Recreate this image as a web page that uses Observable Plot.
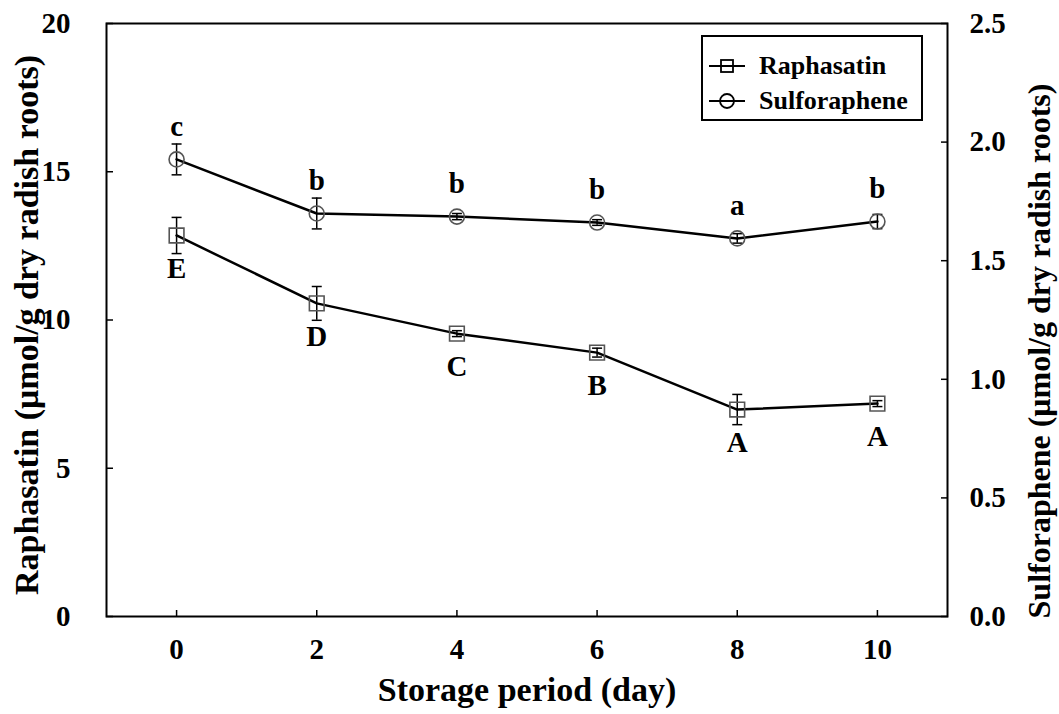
<!DOCTYPE html>
<html>
<head>
<meta charset="utf-8">
<script src="https://cdn.jsdelivr.net/npm/d3@7"></script>
<script src="https://cdn.jsdelivr.net/npm/@observablehq/plot@0.6"></script>
<style>
  body { margin: 0; background: #fff; }
  #wrap { position: relative; width: 1059px; height: 714px; background: #fff; }
  #legend { position: absolute; left: 701px; top: 35px; width: 222px; height: 86px; border: 2px solid #000; box-sizing: border-box; background: #fff;
    font-family: "Liberation Serif", serif; font-weight: bold; font-size: 26px; color: #000; }
  .row { position: absolute; left: 0; height: 30px; display: flex; align-items: center; }
  .row svg { margin-left: 6px; margin-right: 12px; }
</style>
</head>
<body>
<div id="wrap">
  <div id="chart"></div>
  <div id="legend"></div>
</div>
<script>
// ---- data ----
const days = [0, 2, 4, 6, 8, 10];
const raphasatin = [12.85, 10.56, 9.54, 8.90, 6.98, 7.18];
const raphasatinErr = [0.61, 0.57, 0.10, 0.15, 0.51, 0.10];
const raphasatinLetters = ["E", "D", "C", "B", "A", "A"];
const sulforaphene = [1.927, 1.699, 1.686, 1.661, 1.594, 1.665];
const sulforapheneErr = [0.065, 0.065, 0.013, 0.012, 0.020, 0.030];
const sulforapheneLetters = ["c", "b", "b", "b", "a", "b"];
const leftTicks = [0, 5, 10, 15, 20];
const rightTicks = [0.0, 0.5, 1.0, 1.5, 2.0, 2.5];
const seriesNames = ["Raphasatin", "Sulforaphene"];
const ratio = 8; // right axis (0–2.5) mapped onto left axis (0–20)

const rows = days.map((d, i) => ({
  day: d,
  r: raphasatin[i], rLo: raphasatin[i] - raphasatinErr[i], rHi: raphasatin[i] + raphasatinErr[i], rL: raphasatinLetters[i],
  s: sulforaphene[i] * ratio, sLo: (sulforaphene[i] - sulforapheneErr[i]) * ratio, sHi: (sulforaphene[i] + sulforapheneErr[i]) * ratio, sL: sulforapheneLetters[i]
}));

const capSymbol = { draw(ctx, size) { const w = Math.sqrt(size / Math.PI); ctx.moveTo(-w, 0); ctx.lineTo(w, 0); } };
const font = "Liberation Serif";
const markerStroke = "#555";

const chart = Plot.plot({
  width: 1059, height: 714,
  marginLeft: 106, marginRight: 112, marginTop: 23, marginBottom: 98,
  x: { domain: [-1, 11] },
  y: { domain: [0, 20] },
  style: { fontFamily: font, fontWeight: "bold", fontSize: "29px", color: "#000", background: "#fff" },
  marks: [
    Plot.frame({ stroke: "#000", strokeWidth: 2 }),
    Plot.axisX({ ticks: days, tickSize: -6, tickPadding: 28, label: null, fontSize: 29, fontWeight: "bold", strokeWidth: 1.5 }),
    Plot.axisY({ ticks: leftTicks, tickSize: -7, tickPadding: 43, label: null, fontSize: 29, fontWeight: "bold", strokeWidth: 1.5 }),
    Plot.axisY({ anchor: "right", ticks: rightTicks.map(t => t * ratio), tickFormat: d => (d / ratio).toFixed(1), tickSize: -7, tickPadding: 29, label: null, fontSize: 29, fontWeight: "bold", strokeWidth: 1.5 }),
    Plot.text(["Storage period (day)"], { frameAnchor: "bottom", dy: 74, lineAnchor: "middle", textAnchor: "middle", fontSize: 34, fontWeight: "bold", fill: "#000" }),
    Plot.text(["Raphasatin (\u03bcmol/g dry radish roots)"], { frameAnchor: "left", dx: -79, dy: 5, rotate: -90, textAnchor: "middle", lineAnchor: "middle", fontSize: 34, fontWeight: "bold", fill: "#000" }),
    Plot.text(["Sulforaphene (\u03bcmol/g dry radish roots)"], { frameAnchor: "right", dx: 92, dy: 31, rotate: -90, textAnchor: "middle", lineAnchor: "middle", fontSize: 32, fontWeight: "bold", fill: "#000" }),
    // error bars
    Plot.ruleX(rows, { x: "day", y1: "rLo", y2: "rHi", stroke: "#000", strokeWidth: 1.5 }),
    Plot.dot(rows, { x: "day", y: "rLo", symbol: capSymbol, r: 5, stroke: "#000", strokeWidth: 1.5, fill: "none" }),
    Plot.dot(rows, { x: "day", y: "rHi", symbol: capSymbol, r: 5, stroke: "#000", strokeWidth: 1.5, fill: "none" }),
    Plot.ruleX(rows, { x: "day", y1: "sLo", y2: "sHi", stroke: "#000", strokeWidth: 1.5 }),
    Plot.dot(rows, { x: "day", y: "sLo", symbol: capSymbol, r: 5, stroke: "#000", strokeWidth: 1.5, fill: "none" }),
    Plot.dot(rows, { x: "day", y: "sHi", symbol: capSymbol, r: 5, stroke: "#000", strokeWidth: 1.5, fill: "none" }),
    // lines
    Plot.line(rows, { x: "day", y: "r", stroke: "#000", strokeWidth: 2.5 }),
    Plot.line(rows, { x: "day", y: "s", stroke: "#000", strokeWidth: 2.5 }),
    // markers
    Plot.dot(rows, { x: "day", y: "r", symbol: "square", r: 8.3, stroke: markerStroke, strokeWidth: 1.6, fill: "none" }),
    Plot.dot(rows, { x: "day", y: "s", symbol: "circle", r: 7.5, stroke: markerStroke, strokeWidth: 1.6, fill: "none" }),
    // significance letters
    Plot.text(rows, { x: "day", y: "s", text: "sL", dy: -33, fontSize: 29, fontWeight: "bold", fill: "#000" }),
    Plot.text(rows, { x: "day", y: "r", text: "rL", dy: 33, fontSize: 29, fontWeight: "bold", fill: "#000" })
  ]
});
document.getElementById("chart").appendChild(chart);

// legend
const legend = document.getElementById("legend");
const legendSymbols = [
  '<rect x="12" y="4" width="12" height="12" fill="none" stroke="#000" stroke-width="1.8"/>',
  '<circle cx="18" cy="10" r="7" fill="none" stroke="#000" stroke-width="1.8"/>'
];
seriesNames.forEach((name, i) => {
  const row = document.createElement("div");
  row.className = "row";
  row.style.top = (i === 0 ? 14 : 49) + "px";
  row.innerHTML = `<svg width="38" height="20"><line x1="0" y1="10" x2="36" y2="10" stroke="#000" stroke-width="2"/>${legendSymbols[i]}</svg><span>${name}</span>`;
  legend.appendChild(row);
});
</script>
</body>
</html>
